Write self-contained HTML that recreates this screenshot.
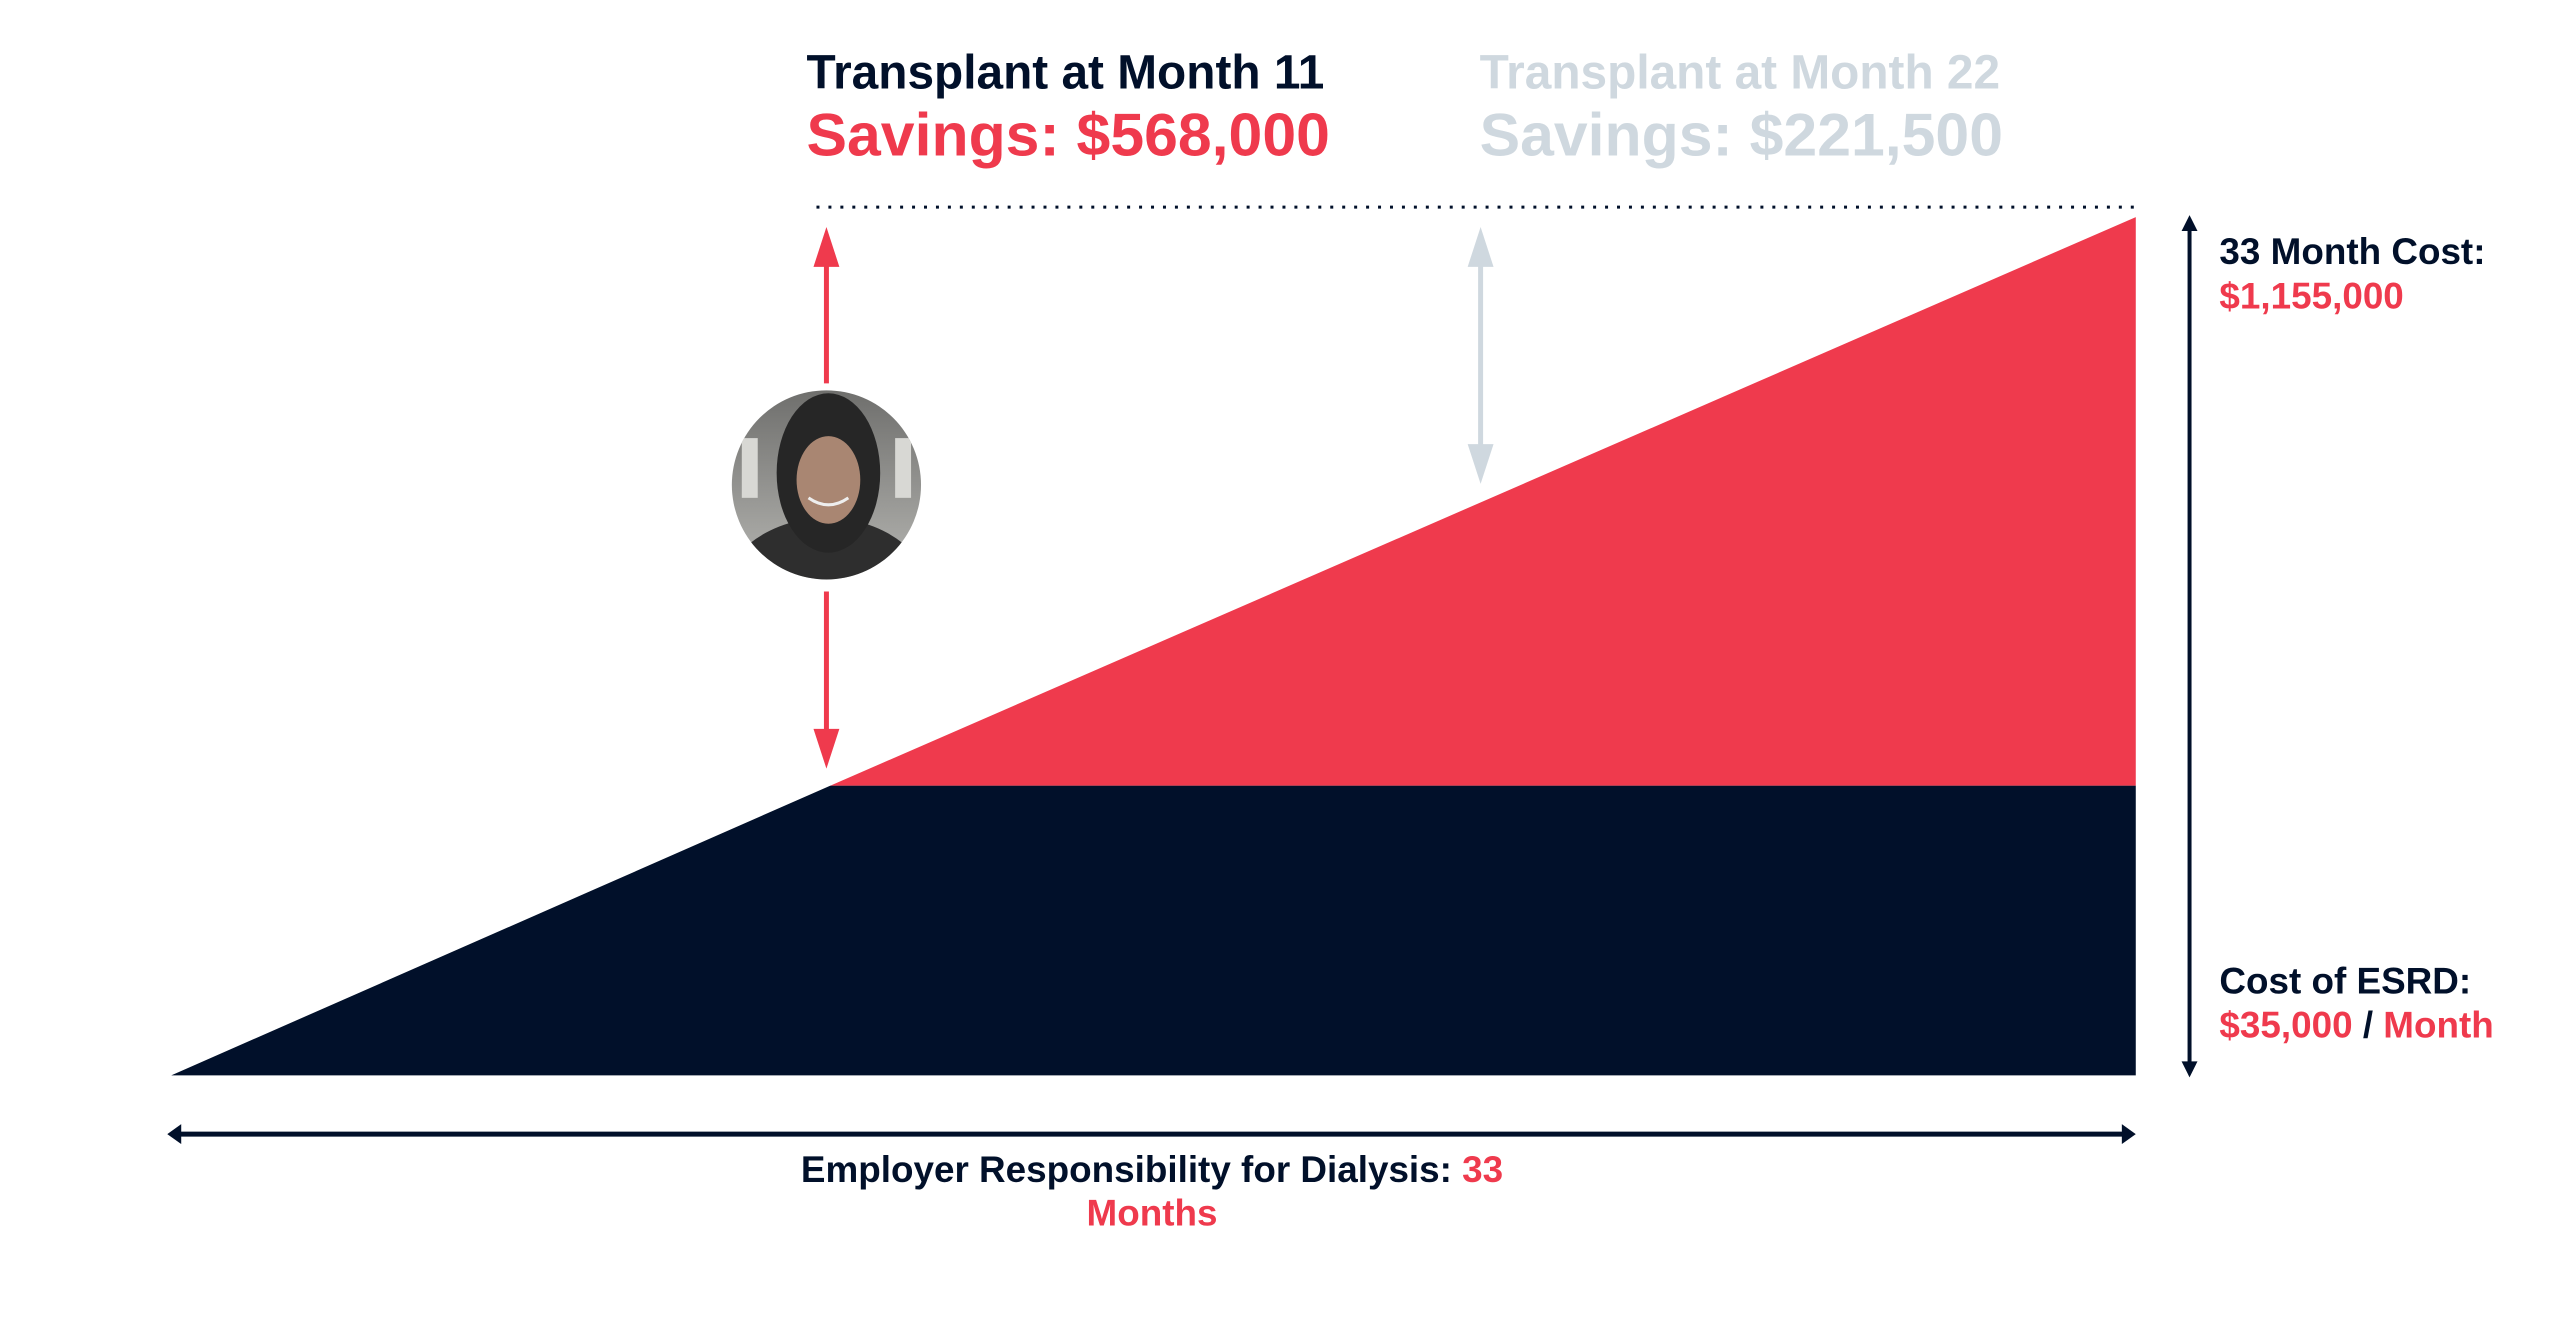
<!DOCTYPE html>
<html><head><meta charset="utf-8"><style>
html,body{margin:0;padding:0;background:#fff;}
body{width:2560px;height:1319px;overflow:hidden;position:relative;font-family:"Liberation Sans",Arial,sans-serif;font-weight:bold;}
#w{position:absolute;left:0;top:0;width:2560px;height:1319px;transform:scale(0.9957);transform-origin:0 0;}
.t{position:absolute;white-space:nowrap;line-height:1;}
</style></head><body><div id="w">
<svg width="2560" height="1319" style="position:absolute;left:0;top:0">
<defs>
<clipPath id="c"><circle cx="830" cy="487" r="95"/></clipPath>
<linearGradient id="bg" x1="0" y1="0" x2="0" y2="1"><stop offset="0" stop-color="#6e6e6c"/><stop offset="1" stop-color="#b9b9b5"/></linearGradient>
</defs>
<polygon points="172,1080 834,789 2145,789 2145,1080" fill="#01102a"/>
<polygon points="834,789 2145,218 2145,789" fill="#ef3a4d"/>
<line x1="820" y1="208" x2="2145" y2="208" stroke="#01102a" stroke-width="3" stroke-dasharray="3,9"/>
<line x1="830" y1="250" x2="830" y2="385" stroke="#ef3a4d" stroke-width="5"/>
<polygon points="830,228 817,268 843,268" fill="#ef3a4d"/>
<line x1="830" y1="594" x2="830" y2="750" stroke="#ef3a4d" stroke-width="5"/>
<polygon points="830,772 817,732 843,732" fill="#ef3a4d"/>
<line x1="1487" y1="250" x2="1487" y2="465" stroke="#cfd8df" stroke-width="5"/>
<polygon points="1487,228 1474,268 1500,268" fill="#cfd8df"/>
<polygon points="1487,486 1474,446 1500,446" fill="#cfd8df"/>
<g clip-path="url(#c)">
<rect x="730" y="390" width="200" height="200" fill="url(#bg)"/>
<rect x="745" y="440" width="16" height="60" fill="#d8d8d4"/>
<rect x="899" y="440" width="16" height="60" fill="#d8d8d4"/>
<ellipse cx="830" cy="610" rx="110" ry="90" fill="#2e2e2e"/>
<ellipse cx="832" cy="475" rx="52" ry="80" fill="#262626"/>
<ellipse cx="832" cy="482" rx="32" ry="44" fill="#a98672"/>
<path d="M812 500 q20 14 40 0" stroke="#eee" stroke-width="3" fill="none"/>
</g>
<line x1="2199" y1="228" x2="2199" y2="1070" stroke="#01102a" stroke-width="4"/>
<polygon points="2199,216 2191,232 2207,232" fill="#01102a"/>
<polygon points="2199,1082 2191,1066 2207,1066" fill="#01102a"/>
<line x1="180" y1="1139" x2="2133" y2="1139" stroke="#01102a" stroke-width="5"/>
<polygon points="168,1139 182,1129 182,1149" fill="#01102a"/>
<polygon points="2145,1139 2131,1129 2131,1149" fill="#01102a"/>
</svg>
<div class="t" style="left:810px;top:50px;font-size:48px;color:#01102a">Transplant at Month 11</div>
<div class="t" style="left:810px;top:105px;font-size:61px;color:#ef3a4d">Savings: $568,000</div>
<div class="t" style="left:1486px;top:50px;font-size:48px;color:#cfd8df">Transplant at Month 22</div>
<div class="t" style="left:1486px;top:105px;font-size:61px;color:#cfd8df">Savings: $221,500</div>
<div class="t" style="left:2229px;top:234px;font-size:37px;color:#01102a">33 Month Cost:</div>
<div class="t" style="left:2229px;top:279px;font-size:37px;color:#ef3a4d">$1,155,000</div>
<div class="t" style="left:2229px;top:967px;font-size:37px;color:#01102a">Cost of ESRD:</div>
<div class="t" style="left:2229px;top:1011px;font-size:37px;color:#ef3a4d">$35,000 <span style="color:#01102a">/</span> Month</div>
<div class="t" style="left:0;width:2314px;text-align:center;top:1156px;font-size:37px;color:#01102a">Employer Responsibility for Dialysis: <span style="color:#ef3a4d">33</span></div>
<div class="t" style="left:0;width:2314px;text-align:center;top:1200px;font-size:37px;color:#ef3a4d">Months</div>
</div></body></html>
